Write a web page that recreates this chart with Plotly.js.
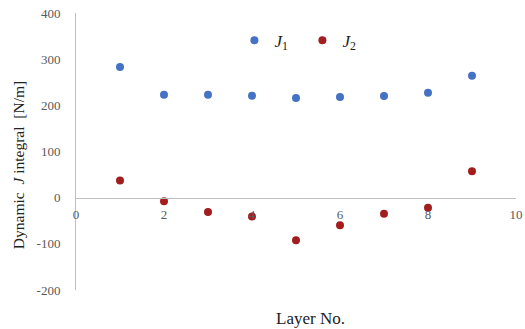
<!DOCTYPE html>
<html>
<head>
<meta charset="utf-8">
<script src="https://cdn.plot.ly/plotly-3.0.1.min.js"></script>
<style>html,body{margin:0;padding:0;background:#fff;}#chart{width:525px;height:329px;}</style>
</head>
<body>
<div id="chart"></div>
<script>
const layers = [1, 2, 3, 4, 5, 6, 7, 8, 9];
const j1 = [283, 223, 223, 221, 216, 218, 220, 227, 264];
const j2 = [37, -8, -31, -41, -92, -60, -35, -22, 57];
const xTicks = [0, 2, 4, 6, 8, 10];
const yTicks = [-200, -100, 0, 100, 200, 300, 400];
const yRange = [-200, 400];
const xRange = [0, 10];

const serif = 'Liberation Serif, Times New Roman, serif';
const data = [
  {x: layers, y: j1, type: 'scatter', mode: 'markers', name: '<i>J</i><sub>1</sub>',
   marker: {color: '#4472C4', size: 8}},
  {x: layers, y: j2, type: 'scatter', mode: 'markers', name: '<i>J</i><sub>2</sub>',
   marker: {color: '#A21E1E', size: 8}}
];
const layout = {
  width: 525, height: 329,
  margin: {l: 76, r: 9, t: 13, b: 39},
  paper_bgcolor: '#fff', plot_bgcolor: '#fff',
  font: {family: serif, color: '#595959', size: 13},
  showlegend: true,
  legend: {orientation: 'h', x: 0.36, y: 0.9, xanchor: 'left', yanchor: 'middle',
           entrywidth: 23, entrywidthmode: 'pixels',
           font: {family: serif, size: 17, color: '#222'}, tracegroupgap: 0},
  xaxis: {range: xRange, tickvals: xTicks, ticktext: xTicks.map(String),
          showline: true, linecolor: '#BFBFBF', linewidth: 1, showgrid: false, zeroline: false,
          anchor: 'free', position: (0 - yRange[0]) / (yRange[1] - yRange[0]),
          ticks: 'outside', ticklen: 5, tickcolor: 'rgba(0,0,0,0)',
          tickfont: {family: serif, size: 13, color: '#595959'}},
  yaxis: {range: yRange, tickvals: yTicks, ticktext: yTicks.map(String),
          showline: true, linecolor: '#BFBFBF', linewidth: 1, showgrid: false, zeroline: false,
          ticks: 'outside', ticklen: 12, tickcolor: 'rgba(0,0,0,0)',
          tickfont: {family: serif, size: 13, color: '#595959'}},
  annotations: [
    {text: 'Layer No.', xref: 'paper', yref: 'paper', x: 0.532, y: -0.104, yanchor: 'middle',
     showarrow: false, font: {family: serif, size: 17, color: '#222'}},
    {text: 'Dynamic  <i>J</i> integral  [N/m]', xref: 'paper', yref: 'paper', x: -0.13, y: 0.45,
     xanchor: 'center', yanchor: 'middle',
     textangle: -90, showarrow: false, font: {family: serif, size: 15.5, color: '#222'}}
  ]
};
Plotly.newPlot('chart', data, layout, {displayModeBar: false, staticPlot: true});
</script>
</body>
</html>
